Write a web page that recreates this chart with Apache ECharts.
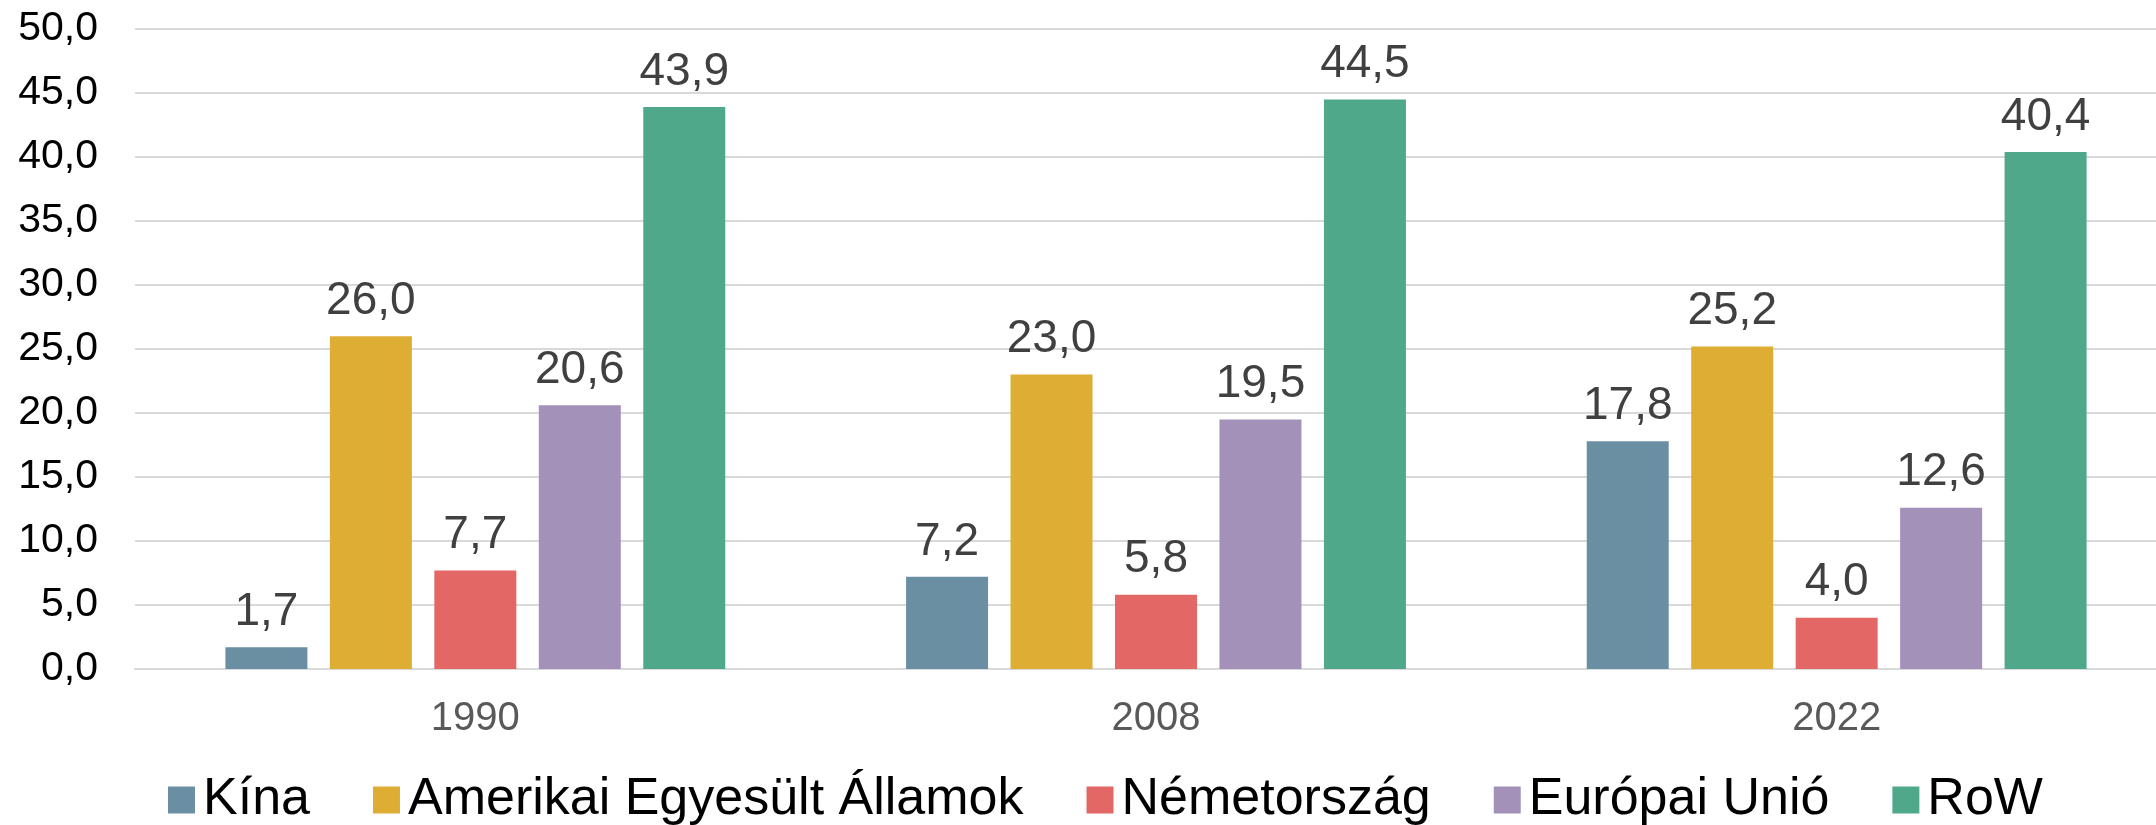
<!DOCTYPE html>
<html>
<head>
<meta charset="utf-8">
<script src="https://cdn.jsdelivr.net/npm/echarts@6/dist/echarts.min.js"></script>
<style>
html,body{margin:0;padding:0;background:#fff;}
#chart{width:2156px;height:825px;}
</style>
</head>
<body>
<div id="chart"></div>
<script>
const categories = ['1990', '2008', '2022'];
const seriesNames = ['Kína', 'Amerikai Egyesült Államok', 'Németország', 'Európai Unió', 'RoW'];
const kina = [1.7, 7.2, 17.8];
const usa = [26.0, 23.0, 25.2];
const nemetorszag = [7.7, 5.8, 4.0];
const eu = [20.6, 19.5, 12.6];
const row = [43.9, 44.5, 40.4];
const colors = ['#6A8FA3', '#DDAD34', '#E26765', '#A391BA', '#4FA88A'];
const yMin = 0, yMax = 50, yStep = 5;

const values = [kina, usa, nemetorszag, eu, row];
const fmt = v => Number(v).toFixed(1).replace('.', ',');
const FONT = '"Liberation Sans", Arial, sans-serif';

const chart = echarts.init(document.getElementById('chart'), null, {renderer: 'canvas'});
chart.setOption({
  animation: false,
  backgroundColor: '#ffffff',
  grid: {left: 135, width: 2042, top: 29, height: 640, containLabel: false, outerBoundsMode: 'none'},
  legend: {
    data: seriesNames,
    left: 163,
    top: 767,
    itemWidth: 27,
    itemHeight: 27,
    itemGap: 63,
    icon: 'rect',
    textStyle: {fontSize: 52, color: '#000', fontFamily: FONT, padding: [0, 0, 0, 3], lineHeight: 56}
  },
  xAxis: {
    type: 'category',
    data: categories,
    axisLine: {show: true, lineStyle: {color: '#D9D9D9', width: 2}},
    axisTick: {show: false},
    axisLabel: {fontSize: 40, color: '#595959', fontFamily: FONT, margin: 30}
  },
  yAxis: {
    type: 'value',
    min: yMin, max: yMax, interval: yStep,
    axisLine: {show: false},
    axisTick: {show: false},
    splitLine: {lineStyle: {color: '#D9D9D9', width: 2}},
    axisLabel: {fontSize: 41, color: '#000', fontFamily: FONT, margin: 37, formatter: fmt}
  },
  series: seriesNames.map((name, i) => ({
    name: name,
    type: 'bar',
    data: values[i],
    barWidth: 82,
    barGap: '27.4%',
    itemStyle: {color: colors[i]},
    label: {
      show: true,
      position: 'top',
      distance: 12,
      fontSize: 46,
      color: '#404040',
      fontFamily: FONT,
      formatter: p => fmt(p.value)
    }
  }))
});
</script>
</body>
</html>
